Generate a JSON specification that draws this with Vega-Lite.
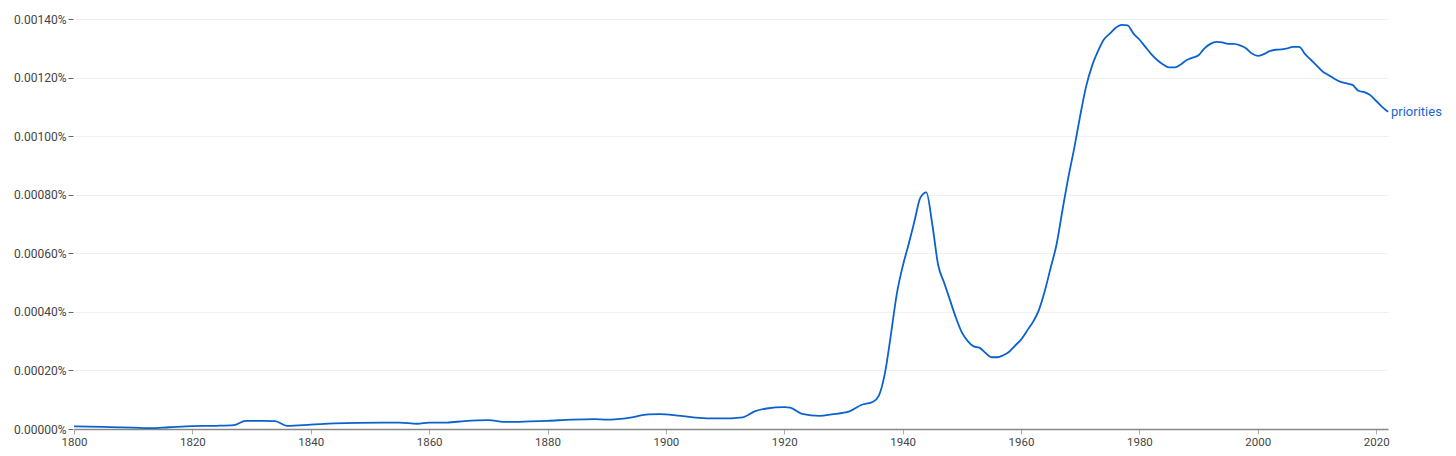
{
  "$schema": "https://vega.github.io/schema/vega-lite/v6.json",
  "width": 1314,
  "height": 410,
  "autosize": {"type": "none"},
  "padding": {"left": 74, "top": 19, "right": 68, "bottom": 27},
  "background": "white",
  "config": {
    "view": {"stroke": null},
    "font": "Roboto",
    "axis": {"labelFont": "Roboto", "labelFontSize": 11, "labelColor": "#4a4a4a"}
  },
  "data": {
    "values": [
      {"year": 1800, "value": 0.0000092, "term": "priorities"},
      {"year": 1805, "value": 0.000007, "term": "priorities"},
      {"year": 1810, "value": 0.000005, "term": "priorities"},
      {"year": 1813, "value": 0.000003, "term": "priorities"},
      {"year": 1816, "value": 0.000006, "term": "priorities"},
      {"year": 1820, "value": 0.00001, "term": "priorities"},
      {"year": 1824, "value": 0.000011, "term": "priorities"},
      {"year": 1827, "value": 0.000013, "term": "priorities"},
      {"year": 1829, "value": 0.000028, "term": "priorities"},
      {"year": 1832, "value": 0.000028, "term": "priorities"},
      {"year": 1834, "value": 0.000027, "term": "priorities"},
      {"year": 1836, "value": 0.000011, "term": "priorities"},
      {"year": 1840, "value": 0.0000147, "term": "priorities"},
      {"year": 1844, "value": 0.000019, "term": "priorities"},
      {"year": 1848, "value": 0.000021, "term": "priorities"},
      {"year": 1852, "value": 0.0000215, "term": "priorities"},
      {"year": 1855, "value": 0.0000215, "term": "priorities"},
      {"year": 1858, "value": 0.000018, "term": "priorities"},
      {"year": 1860, "value": 0.0000215, "term": "priorities"},
      {"year": 1863, "value": 0.000022, "term": "priorities"},
      {"year": 1866, "value": 0.000027, "term": "priorities"},
      {"year": 1870, "value": 0.00003, "term": "priorities"},
      {"year": 1873, "value": 0.000024, "term": "priorities"},
      {"year": 1877, "value": 0.000026, "term": "priorities"},
      {"year": 1880, "value": 0.000028, "term": "priorities"},
      {"year": 1884, "value": 0.000032, "term": "priorities"},
      {"year": 1888, "value": 0.000034, "term": "priorities"},
      {"year": 1890, "value": 0.000032, "term": "priorities"},
      {"year": 1894, "value": 0.000039, "term": "priorities"},
      {"year": 1897, "value": 0.00005, "term": "priorities"},
      {"year": 1899, "value": 0.000051, "term": "priorities"},
      {"year": 1902, "value": 0.000046, "term": "priorities"},
      {"year": 1905, "value": 0.000039, "term": "priorities"},
      {"year": 1909, "value": 0.000036, "term": "priorities"},
      {"year": 1913, "value": 0.00004, "term": "priorities"},
      {"year": 1915, "value": 0.00006, "term": "priorities"},
      {"year": 1917, "value": 0.00007, "term": "priorities"},
      {"year": 1920, "value": 0.000075, "term": "priorities"},
      {"year": 1921, "value": 0.000073, "term": "priorities"},
      {"year": 1923, "value": 0.000052, "term": "priorities"},
      {"year": 1926, "value": 0.000045, "term": "priorities"},
      {"year": 1928, "value": 0.00005, "term": "priorities"},
      {"year": 1931, "value": 0.00006, "term": "priorities"},
      {"year": 1933, "value": 0.000082, "term": "priorities"},
      {"year": 1935, "value": 0.000093, "term": "priorities"},
      {"year": 1936, "value": 0.000115, "term": "priorities"},
      {"year": 1937, "value": 0.00019, "term": "priorities"},
      {"year": 1938, "value": 0.00032, "term": "priorities"},
      {"year": 1939, "value": 0.00046, "term": "priorities"},
      {"year": 1940, "value": 0.000555, "term": "priorities"},
      {"year": 1941, "value": 0.00063, "term": "priorities"},
      {"year": 1942, "value": 0.00071, "term": "priorities"},
      {"year": 1943, "value": 0.00079, "term": "priorities"},
      {"year": 1944, "value": 0.000808, "term": "priorities"},
      {"year": 1945, "value": 0.0007, "term": "priorities"},
      {"year": 1946, "value": 0.00056, "term": "priorities"},
      {"year": 1947, "value": 0.0005, "term": "priorities"},
      {"year": 1948, "value": 0.00044, "term": "priorities"},
      {"year": 1949, "value": 0.00038, "term": "priorities"},
      {"year": 1950, "value": 0.00033, "term": "priorities"},
      {"year": 1951, "value": 0.0003, "term": "priorities"},
      {"year": 1952, "value": 0.000282, "term": "priorities"},
      {"year": 1953, "value": 0.000277, "term": "priorities"},
      {"year": 1954, "value": 0.00026, "term": "priorities"},
      {"year": 1955, "value": 0.000245, "term": "priorities"},
      {"year": 1956, "value": 0.000245, "term": "priorities"},
      {"year": 1957, "value": 0.000252, "term": "priorities"},
      {"year": 1958, "value": 0.000264, "term": "priorities"},
      {"year": 1959, "value": 0.000285, "term": "priorities"},
      {"year": 1960, "value": 0.000305, "term": "priorities"},
      {"year": 1961, "value": 0.000335, "term": "priorities"},
      {"year": 1962, "value": 0.000365, "term": "priorities"},
      {"year": 1963, "value": 0.000405, "term": "priorities"},
      {"year": 1964, "value": 0.00047, "term": "priorities"},
      {"year": 1965, "value": 0.00055, "term": "priorities"},
      {"year": 1966, "value": 0.00063, "term": "priorities"},
      {"year": 1967, "value": 0.000747, "term": "priorities"},
      {"year": 1968, "value": 0.00086, "term": "priorities"},
      {"year": 1969, "value": 0.00096, "term": "priorities"},
      {"year": 1970, "value": 0.00107, "term": "priorities"},
      {"year": 1971, "value": 0.00117, "term": "priorities"},
      {"year": 1972, "value": 0.00124, "term": "priorities"},
      {"year": 1973, "value": 0.00129, "term": "priorities"},
      {"year": 1974, "value": 0.00133, "term": "priorities"},
      {"year": 1975, "value": 0.00135, "term": "priorities"},
      {"year": 1976, "value": 0.00137, "term": "priorities"},
      {"year": 1977, "value": 0.00138, "term": "priorities"},
      {"year": 1978, "value": 0.001378, "term": "priorities"},
      {"year": 1979, "value": 0.00135, "term": "priorities"},
      {"year": 1980, "value": 0.00133, "term": "priorities"},
      {"year": 1981, "value": 0.001305, "term": "priorities"},
      {"year": 1982, "value": 0.00128, "term": "priorities"},
      {"year": 1983, "value": 0.00126, "term": "priorities"},
      {"year": 1984, "value": 0.001245, "term": "priorities"},
      {"year": 1985, "value": 0.001235, "term": "priorities"},
      {"year": 1986, "value": 0.001235, "term": "priorities"},
      {"year": 1987, "value": 0.001245, "term": "priorities"},
      {"year": 1988, "value": 0.00126, "term": "priorities"},
      {"year": 1989, "value": 0.001268, "term": "priorities"},
      {"year": 1990, "value": 0.001276, "term": "priorities"},
      {"year": 1991, "value": 0.0013, "term": "priorities"},
      {"year": 1992, "value": 0.001315, "term": "priorities"},
      {"year": 1993, "value": 0.001322, "term": "priorities"},
      {"year": 1994, "value": 0.00132, "term": "priorities"},
      {"year": 1995, "value": 0.001315, "term": "priorities"},
      {"year": 1996, "value": 0.001315, "term": "priorities"},
      {"year": 1997, "value": 0.00131, "term": "priorities"},
      {"year": 1998, "value": 0.0013, "term": "priorities"},
      {"year": 1999, "value": 0.001282, "term": "priorities"},
      {"year": 2000, "value": 0.001274, "term": "priorities"},
      {"year": 2001, "value": 0.00128, "term": "priorities"},
      {"year": 2002, "value": 0.00129, "term": "priorities"},
      {"year": 2003, "value": 0.001295, "term": "priorities"},
      {"year": 2004, "value": 0.001296, "term": "priorities"},
      {"year": 2005, "value": 0.0013, "term": "priorities"},
      {"year": 2006, "value": 0.001305, "term": "priorities"},
      {"year": 2007, "value": 0.001305, "term": "priorities"},
      {"year": 2008, "value": 0.00128, "term": "priorities"},
      {"year": 2009, "value": 0.00126, "term": "priorities"},
      {"year": 2010, "value": 0.00124, "term": "priorities"},
      {"year": 2011, "value": 0.00122, "term": "priorities"},
      {"year": 2012, "value": 0.001208, "term": "priorities"},
      {"year": 2013, "value": 0.001195, "term": "priorities"},
      {"year": 2014, "value": 0.001185, "term": "priorities"},
      {"year": 2015, "value": 0.00118, "term": "priorities"},
      {"year": 2016, "value": 0.001175, "term": "priorities"},
      {"year": 2017, "value": 0.001155, "term": "priorities"},
      {"year": 2018, "value": 0.00115, "term": "priorities"},
      {"year": 2019, "value": 0.00114, "term": "priorities"},
      {"year": 2020, "value": 0.00112, "term": "priorities"},
      {"year": 2021, "value": 0.0011, "term": "priorities"},
      {"year": 2022, "value": 0.001083, "term": "priorities"}
    ]
  },
  "encoding": {
    "x": {
      "field": "year",
      "type": "quantitative",
      "scale": {"domain": [1800, 2022], "nice": false, "zero": false},
      "axis": {
        "title": null,
        "values": [1800, 1820, 1840, 1860, 1880, 1900, 1920, 1940, 1960, 1980, 2000, 2020],
        "format": "d",
        "grid": false,
        "labelFlush": false,
        "labelOverlap": false,
        "domainColor": "#888888",
        "domainWidth": 1.5,
        "tickColor": "#aaaaaa",
        "tickSize": 5,
        "labelPadding": 2,
        "labelFontSize": 11.5,
        "labelColor": "#444444"
      }
    },
    "y": {
      "field": "value",
      "type": "quantitative",
      "scale": {"domain": [0, 0.0014], "nice": false},
      "axis": {
        "title": null,
        "values": [0, 0.0002, 0.0004, 0.0006, 0.0008, 0.001, 0.0012, 0.0014],
        "labelExpr": "format(datum.value, '.5f') + '%'",
        "labelFlush": false,
        "labelOverlap": false,
        "domain": false,
        "grid": true,
        "gridColor": "#f0f0f0",
        "offset": 1,
        "tickColor": "#666666",
        "tickSize": 5,
        "labelPadding": 2,
        "labelFontSize": 12,
        "labelColor": "#444444"
      }
    }
  },
  "layer": [
    {
      "mark": {"type": "line", "interpolate": "monotone", "color": "#0b62cf", "strokeWidth": 1.8}
    },
    {
      "transform": [{"filter": "datum.year == 2022"}],
      "mark": {"type": "text", "align": "left", "baseline": "middle", "dx": 3, "fontSize": 13, "color": "#1a66d6", "font": "Roboto"},
      "encoding": {"text": {"field": "term"}}
    }
  ]
}
